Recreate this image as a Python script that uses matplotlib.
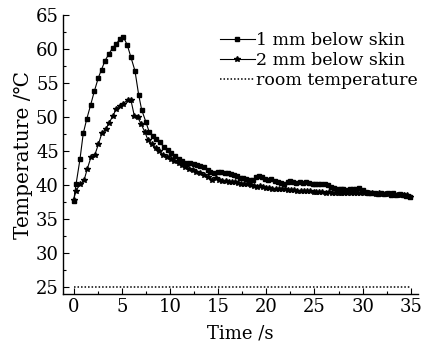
import matplotlib
matplotlib.use("Agg")
import matplotlib.pyplot as plt
from matplotlib.ticker import MultipleLocator

plt.rcParams['font.family'] = ['DejaVu Serif', 'DejaVu Sans']
plt.rcParams['mathtext.fontset'] = 'dejavuserif'

# ---- data ----
t1_early = [0.0, 0.25, 0.66, 1.0, 1.36, 1.77, 2.15, 2.57, 2.9, 3.26, 3.67, 4.05, 4.4, 4.8,
            5.16, 5.57, 5.95, 6.37, 6.75, 7.06, 7.5, 7.85, 8.24, 8.58, 8.96, 9.38, 9.76,
            10.1, 10.5, 10.9, 11.3, 11.7, 12.1, 12.5, 12.8, 13.15, 13.5, 13.9, 14.2, 14.6]
v1_early = [37.6, 40.1, 43.8, 47.6, 49.7, 51.8, 53.8, 55.8, 57.0, 58.3, 59.3, 60.2, 60.7, 61.5,
            61.8, 60.6, 58.8, 56.8, 53.3, 51.1, 49.3, 47.8, 47.2, 46.8, 46.3, 45.6, 45.1,
            44.7, 44.3, 43.9, 43.5, 43.3, 43.3, 43.1, 42.9, 42.8, 42.6, 42.3, 42.0, 41.8]
t1_tail = [15.0, 15.3, 15.7, 16.0, 16.3, 16.6, 17.0, 17.3, 17.6, 17.9, 18.3, 18.6, 18.9, 19.2,
           19.6, 19.9, 20.2, 20.5, 20.9, 21.2, 21.5, 21.8, 22.2, 22.5, 22.8, 23.1, 23.5, 23.8,
           24.1, 24.4, 24.8, 25.1, 25.4, 25.7, 26.1, 26.4, 26.7, 27.0, 27.4, 27.7, 28.0, 28.3,
           28.7, 29.0, 29.3, 29.6, 30.0, 30.3, 30.6, 30.9, 31.3, 31.6, 31.9, 32.2, 32.6, 32.9,
           33.2, 33.5, 33.9, 34.2, 34.5, 34.9]
v1_tail = [42.0, 41.9, 41.8, 41.8, 41.7, 41.5, 41.3, 41.1, 41.0, 40.9, 40.8, 40.7, 41.2, 41.3,
           41.2, 40.9, 40.7, 40.9, 40.6, 40.5, 40.3, 40.2, 40.4, 40.6, 40.5, 40.3, 40.4, 40.3,
           40.4, 40.3, 40.2, 40.1, 40.2, 40.2, 40.2, 40.0, 39.8, 39.6, 39.5, 39.4, 39.4, 39.3,
           39.4, 39.5, 39.5, 39.6, 39.3, 39.0, 38.9, 38.8, 38.9, 38.7, 38.9, 38.7, 38.8, 38.6,
           38.8, 38.6, 38.7, 38.5, 38.4, 38.3]

t2_early = [0.0, 0.25, 0.66, 1.08, 1.42, 1.8, 2.19, 2.57, 2.95, 3.33, 3.7, 4.05, 4.43, 4.8,
            5.16, 5.6, 5.95, 6.3, 6.65, 7.0, 7.4, 7.7, 8.1, 8.5, 8.85, 9.25, 9.7, 10.1, 10.4,
            10.9, 11.2, 11.6, 12.0, 12.35, 12.7, 13.1, 13.5, 14.0, 14.4, 14.8]
v2_early = [37.8, 39.2, 40.1, 40.7, 42.4, 44.1, 44.4, 46.0, 47.7, 48.2, 49.2, 50.1, 51.2, 51.7,
            52.0, 52.5, 52.5, 50.2, 50.0, 49.0, 47.8, 46.7, 46.0, 45.5, 45.0, 44.5, 44.2, 43.9,
            43.6, 43.2, 42.9, 42.7, 42.4, 42.2, 42.0, 41.8, 41.5, 41.2, 40.8, 41.0]
t2_tail = [15.1, 15.4, 15.8, 16.1, 16.4, 16.7, 17.1, 17.4, 17.7, 18.0, 18.4, 18.7, 19.0, 19.3,
           19.7, 20.0, 20.3, 20.6, 21.0, 21.3, 21.6, 21.9, 22.3, 22.6, 22.9, 23.2, 23.6, 23.9,
           24.2, 24.5, 24.9, 25.2, 25.5, 25.8, 26.2, 26.5, 26.8, 27.1, 27.5, 27.8, 28.1, 28.4,
           28.8, 29.1, 29.4, 29.7, 30.1, 30.4, 30.7, 31.0, 31.4, 31.7, 32.0, 32.3, 32.7, 33.0,
           33.3, 33.6, 34.0, 34.3, 34.6, 34.9]
v2_tail = [40.8, 40.6, 40.6, 40.5, 40.5, 40.4, 40.3, 40.2, 40.1, 40.1, 40.0, 39.9, 39.8, 39.9,
           39.7, 39.6, 39.6, 39.5, 39.5, 39.4, 39.4, 39.4, 39.3, 39.3, 39.3, 39.2, 39.2, 39.2,
           39.1, 39.1, 39.0, 39.0, 39.0, 39.0, 38.9, 39.0, 38.9, 38.9, 38.9, 38.9, 38.9, 38.8,
           38.9, 38.8, 38.8, 38.8, 38.8, 38.8, 38.8, 38.8, 38.7, 38.8, 38.7, 38.7, 38.7, 38.6,
           38.6, 38.6, 38.5, 38.5, 38.5, 38.3]

room_t = [0.0, 35.0]
room_v = [25.0, 25.0]

labels = ["1 mm below skin", "2 mm below skin", "room temperature"]
x_label = "Time /s"
y_label = "Temperature /℃"

# ---- figure ----
fig = plt.figure(figsize=(4.24, 3.43), dpi=100)
ax = fig.add_axes([0.1486, 0.1429, 0.8374, 0.8131])

ax.plot(t1_early + t1_tail, v1_early + v1_tail, color='black', lw=0.8,
        marker='s', ms=3.2, mec='black', mfc='black', label=labels[0])
ax.plot(t2_early + t2_tail, v2_early + v2_tail, color='black', lw=0.8,
        marker='*', ms=4.0, mec='black', mfc='black', label=labels[1])
ax.plot(room_t, room_v, color='black', lw=1.1, linestyle=(0, (1, 1.3)), label=labels[2])

ax.set_xlim(-1.1, 35.75)
ax.set_ylim(24, 65)
ax.xaxis.set_major_locator(MultipleLocator(5))
ax.xaxis.set_minor_locator(MultipleLocator(2.5))
ax.yaxis.set_major_locator(MultipleLocator(5))
ax.yaxis.set_minor_locator(MultipleLocator(2.5))
ax.tick_params(which='both', direction='in', top=False, right=False, width=0.8)
ax.tick_params(which='major', length=4, labelsize=13, pad=3)
ax.tick_params(which='minor', length=2.5)
for s in ['top', 'right']:
    ax.spines[s].set_visible(False)
for s in ['left', 'bottom']:
    ax.spines[s].set_linewidth(1.0)

ax.set_xlabel(x_label, fontsize=13, labelpad=6)
ax.set_ylabel(y_label, fontsize=14.5, labelpad=2)

ax.legend(loc='upper right', bbox_to_anchor=(1.02, 0.965), frameon=False, fontsize=12.5,
          numpoints=1, handlelength=2.0, handletextpad=0.1, labelspacing=0.17,
          borderaxespad=0.0)

fig.savefig("out.png", dpi=100)
